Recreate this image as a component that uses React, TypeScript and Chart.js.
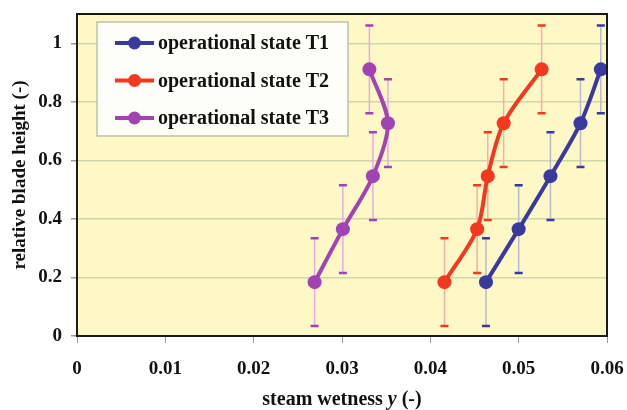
import React, { useEffect, useRef } from 'react';
import { Chart, registerables } from 'chart.js';

Chart.register(...registerables);

// ---- data ----
const bladeHeights = [0.184, 0.365, 0.546, 0.727, 0.911];
const wetnessT1 = [0.0463, 0.05, 0.0536, 0.057, 0.0593];
const wetnessT2 = [0.0416, 0.0453, 0.0465, 0.0483, 0.0526];
const wetnessT3 = [0.0269, 0.0301, 0.0335, 0.0352, 0.0331];
const errorT1 = [0.15, 0.15, 0.15, 0.15, 0.15];
const errorT2 = [0.15, 0.15, 0.15, 0.15, 0.15];
const errorT3 = [0.15, 0.15, 0.15, 0.15, 0.15];
const seriesLabels = ['operational state T1', 'operational state T2', 'operational state T3'];
const xTickLabels = ['0', '0.01', '0.02', '0.03', '0.04', '0.05', '0.06'];
const yTickLabels = ['0', '0.2', '0.4', '0.6', '0.8', '1'];
const xTitleParts = ['steam wetness ', 'y', ' (-)'];
const yTitle = 'relative blade height (-)';

const colors = ['#3A3A9E', '#F2381F', '#A243B3'];
const paleColors = ['#B9B9D2', '#F2B2A6', '#E2AEE0'];

const FONT = "'Liberation Serif', 'Times New Roman', serif";

const mkData = (xs: number[]) => xs.map((x, i) => ({ x, y: bladeHeights[i] }));

const chartPlugin = {
  id: 'customDeco',
  beforeDraw(chart: any) {
    const { ctx, chartArea: a } = chart;
    ctx.save();
    ctx.fillStyle = '#FFFFFF';
    ctx.fillRect(0, 0, chart.width, chart.height);
    ctx.fillStyle = '#FEF7C6';
    ctx.fillRect(a.left, a.top, a.right - a.left, a.bottom - a.top);
    ctx.restore();
  },
  beforeDatasetsDraw(chart: any) {
    const { ctx } = chart;
    const xs = chart.scales.x;
    const ys = chart.scales.y;
    ctx.save();
    chart.data.datasets.forEach((ds: any, di: number) => {
      ds.data.forEach((p: any, i: number) => {
        const e = ds.errorY[i];
        const px = xs.getPixelForValue(p.x);
        const top = ys.getPixelForValue(p.y + e);
        const bot = ys.getPixelForValue(p.y - e);
        ctx.strokeStyle = paleColors[di];
        ctx.lineWidth = 1.5;
        ctx.beginPath();
        ctx.moveTo(px, top);
        ctx.lineTo(px, bot);
        ctx.stroke();
        ctx.strokeStyle = colors[di];
        ctx.lineWidth = 2.5;
        ctx.beginPath();
        ctx.moveTo(px - 4, top);
        ctx.lineTo(px + 4, top);
        ctx.moveTo(px - 4, bot);
        ctx.lineTo(px + 4, bot);
        ctx.stroke();
      });
    });
    ctx.restore();
  },
  afterDatasetsDraw(chart: any) {
    const { ctx, chartArea: a } = chart;
    ctx.save();
    ctx.strokeStyle = '#1A1A1A';
    ctx.lineWidth = 2;
    ctx.strokeRect(a.left, a.top, a.right - a.left, a.bottom - a.top);
    ctx.restore();
  },
  afterDraw(chart: any) {
    const { ctx, chartArea: a } = chart;
    ctx.save();
    // legend
    const bx = 97, by = 22, bw = 251, bh = 114;
    ctx.fillStyle = '#FEFEF8';
    ctx.fillRect(bx, by, bw, bh);
    ctx.strokeStyle = '#BEBEAE';
    ctx.lineWidth = 1.5;
    ctx.strokeRect(bx, by, bw, bh);
    const rows = [43, 80.5, 118];
    chart.data.datasets.forEach((ds: any, di: number) => {
      const y = rows[di];
      ctx.strokeStyle = colors[di];
      ctx.lineWidth = 4;
      ctx.beginPath();
      ctx.moveTo(115, y);
      ctx.lineTo(154, y);
      ctx.stroke();
      ctx.fillStyle = colors[di];
      ctx.beginPath();
      ctx.arc(134.5, y, 6.5, 0, Math.PI * 2);
      ctx.fill();
      ctx.fillStyle = '#111111';
      ctx.font = `bold 20px ${FONT}`;
      ctx.textAlign = 'left';
      ctx.textBaseline = 'middle';
      ctx.fillText(ds.label, 158, y + 1);
    });
    // x axis title with italic y
    const fonts = [`bold 20px ${FONT}`, `italic bold 20px ${FONT}`, `bold 20px ${FONT}`];
    let total = 0;
    const widths = xTitleParts.map((t, i) => {
      ctx.font = fonts[i];
      const w = ctx.measureText(t).width;
      total += w;
      return w;
    });
    let x = (a.left + a.right) / 2 - total / 2;
    ctx.fillStyle = '#111111';
    ctx.textAlign = 'left';
    ctx.textBaseline = 'middle';
    xTitleParts.forEach((t, i) => {
      ctx.font = fonts[i];
      ctx.fillText(t, x, 400);
      x += widths[i];
    });
    ctx.restore();
  },
};

export default function App() {
  const ref = useRef<HTMLCanvasElement | null>(null);
  useEffect(() => {
    if (!ref.current) return;
    const chart = new Chart(ref.current, {
      type: 'scatter',
      data: {
        datasets: [
          { label: seriesLabels[0], data: mkData(wetnessT1), errorY: errorT1 } as any,
          { label: seriesLabels[1], data: mkData(wetnessT2), errorY: errorT2 } as any,
          { label: seriesLabels[2], data: mkData(wetnessT3), errorY: errorT3 } as any,
        ].map((d: any, i: number) => ({
          ...d,
          showLine: true,
          tension: 0.3,
          borderColor: colors[i],
          backgroundColor: colors[i],
          borderWidth: 4,
          pointRadius: 7,
          pointBorderWidth: 0,
          pointBackgroundColor: colors[i],
        })),
      },
      options: {
        animation: false,
        responsive: false,
        devicePixelRatio: 1,
        layout: { padding: { top: 14, right: 20, bottom: 0, left: 0 } },
        plugins: { legend: { display: false }, tooltip: { enabled: false } },
        scales: {
          x: {
            type: 'linear',
            min: 0,
            max: 0.06,
            afterFit: (s: any) => {
              s.height = 74;
              s.paddingLeft = 0;
              s.paddingRight = 0;
            },
            ticks: {
              stepSize: 0.01,
              padding: 15,
              color: '#111111',
              font: { family: FONT, size: 19, weight: 'bold' },
              callback: (v: any) => xTickLabels[Math.round(Number(v) / 0.01)] ?? '',
            },
            grid: { drawOnChartArea: false, drawTicks: true, tickLength: 7, tickColor: '#9A9A9A' },
            border: { display: true, color: '#1A1A1A', width: 2 },
            title: { display: false },
          },
          y: {
            type: 'linear',
            min: 0,
            max: 1.1,
            afterFit: (s: any) => {
              s.width = 77;
              s.paddingTop = 0;
              s.paddingBottom = 0;
            },
            ticks: {
              stepSize: 0.2,
              includeBounds: false,
              padding: 9,
              color: '#111111',
              font: { family: FONT, size: 19, weight: 'bold' },
              callback: (v: any) => yTickLabels[Math.round(Number(v) / 0.2)] ?? '',
            },
            grid: { color: '#D0D6AC', lineWidth: 1.5, drawTicks: true, tickLength: 6, tickColor: '#9A9A9A' },
            border: { display: true, color: '#1A1A1A', width: 2 },
            title: {
              display: true,
              text: yTitle,
              color: '#111111',
              font: { family: FONT, size: 19, weight: 'bold' },
              padding: { top: 9, bottom: 0 },
            },
          },
        },
      },
      plugins: [chartPlugin],
    } as any);
    return () => chart.destroy();
  }, []);
  return (
    <div style={{ position: 'absolute', left: 0, top: 0, width: 627, height: 410 }}>
      <canvas ref={ref} width={627} height={410} />
    </div>
  );
}
